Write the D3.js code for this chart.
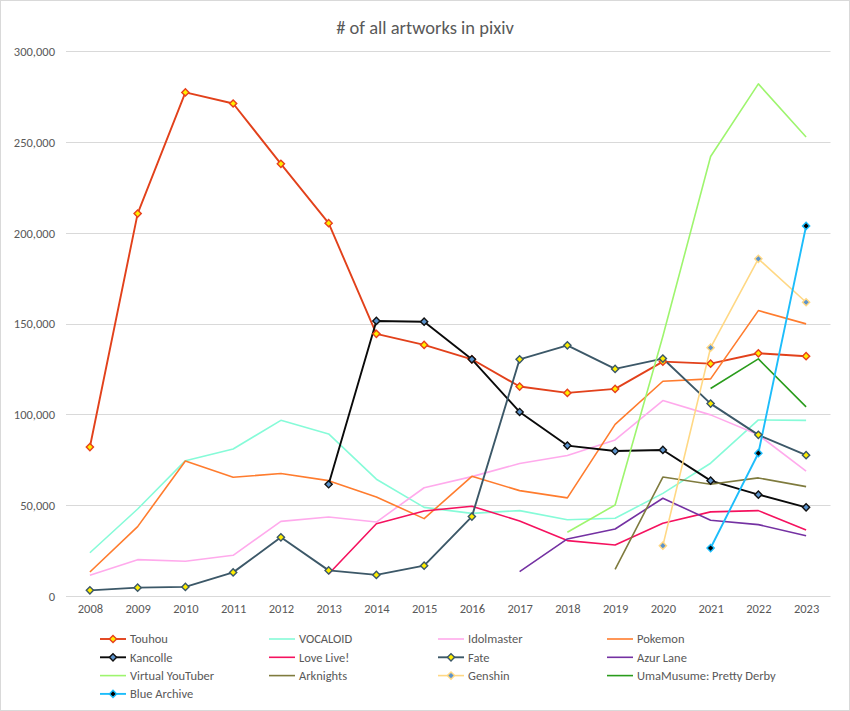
<!DOCTYPE html>
<html>
<head>
<meta charset="utf-8">
<script src="https://cdn.jsdelivr.net/npm/d3@7"></script>
<style>
  body { margin: 0; background: #fff; }
  svg { display: block; font-family: Carlito, Lato, "Open Sans", sans-serif; }
</style>
</head>
<body>
<svg id="chart" width="850" height="711"></svg>
<script>
const years = ["2008","2009","2010","2011","2012","2013","2014","2015","2016","2017","2018","2019","2020","2021","2022","2023"];
const yTicks = [0, 50000, 100000, 150000, 200000, 250000, 300000];

const touhou    = [82000, 210500, 277200, 271100, 237900, 205200, 144300, 138200, 130300, 115300, 111800, 114000, 129000, 127900, 133600, 132000];
const vocaloid  = [23800, 47900, 74500, 80900, 96700, 89200, 64300, 48800, 45500, 47000, 42000, 42800, 56500, 73100, 96900, 96700];
const idolmaster= [11400, 20000, 19100, 22400, 41100, 43500, 40700, 59600, 65700, 72900, 77300, 85900, 107600, 99700, 88700, 68800];
const pokemon   = [13200, 38200, 74300, 65400, 67400, 63500, 54500, 42600, 65900, 58000, 54000, 94500, 118200, 119500, 157100, 149800];
const kancolle  = [null, null, null, null, null, 61500, 151400, 151000, 130300, 101300, 82800, 79800, 80400, 63500, 55800, 48800];
const loveLive  = [null, null, null, null, null, 12100, 39800, 46800, 49400, 41300, 30500, 28100, 40000, 46300, 47000, 36300];
const fate      = [3100, 4600, 5000, 13000, 32300, 14100, 11600, 16700, 43700, 130300, 138000, 125000, 130700, 105900, 88700, 77500];
const azurLane  = [null, null, null, null, null, null, null, null, null, 13400, 31400, 36900, 53800, 41700, 39300, 33200];
const vtuber    = [null, null, null, null, null, null, null, null, null, null, 35100, 50100, 143000, 241900, 281900, 252700];
const arknights = [null, null, null, null, null, null, null, null, null, null, null, 14700, 65500, 61500, 65000, 60200];
const genshin   = [null, null, null, null, null, null, null, null, null, null, null, null, 27700, 136700, 185600, 161700];
const umamusume = [null, null, null, null, null, null, null, null, null, null, null, null, null, 114200, 130500, 104100];
const blueArchive=[null, null, null, null, null, null, null, null, null, null, null, null, null, 26400, 78600, 203700];

const seriesNames = ["Touhou","VOCALOID","Idolmaster","Pokemon","Kancolle","Love Live!","Fate","Azur Lane","Virtual YouTuber","Arknights","Genshin","UmaMusume: Pretty Derby","Blue Archive"];
const seriesValues = [touhou, vocaloid, idolmaster, pokemon, kancolle, loveLive, fate, azurLane, vtuber, arknights, genshin, umamusume, blueArchive];

const styles = [
  {line:"#e2411b", width:1.9, marker:{fill:"#ffee00", stroke:"#e8401c"}},
  {line:"#86fbd8", width:1.6},
  {line:"#ffaaec", width:1.6},
  {line:"#ff7c2e", width:1.6},
  {line:"#0a0a0a", width:1.9, marker:{fill:"#5b93cc", stroke:"#111"}},
  {line:"#f5125f", width:1.6},
  {line:"#3c5868", width:1.9, marker:{fill:"#ffee00", stroke:"#3c5868"}},
  {line:"#7431a2", width:1.6},
  {line:"#9ef56e", width:1.6},
  {line:"#7f7b3e", width:1.6},
  {line:"#ffd884", width:1.6, marker:{fill:"#5b93cc", stroke:"#ffd884"}},
  {line:"#2a9c1c", width:1.6},
  {line:"#1dbdfb", width:1.9, marker:{fill:"#000", stroke:"#1dbdfb"}}
];

const svg = d3.select("#chart");
const W = 850, H = 711;
const txt = "#595959", grid = "#d9d9d9";

svg.append("rect").attr("x",0.5).attr("y",0.5).attr("width",W-1).attr("height",H-1)
   .attr("fill","#fff").attr("stroke","#d9d9d9");

svg.append("text").attr("x",425).attr("y",34).attr("text-anchor","middle")
   .attr("font-size",18.5).attr("fill",txt).text("# of all artworks in pixiv");

const x = d3.scalePoint().domain(years).range([89.9, 806.1]);
const y = d3.scaleLinear().domain([0,300000]).range([596, 51]);

svg.append("g").selectAll("line").data(yTicks).join("line")
  .attr("x1",66).attr("x2",830.5)
  .attr("y1",d=>Math.round(y(d))+0.5).attr("y2",d=>Math.round(y(d))+0.5)
  .attr("stroke",grid).attr("stroke-width",1.2);

const yAxis = d3.axisLeft(y).tickValues(yTicks).tickSize(0).tickPadding(0)
  .tickFormat(d3.format(","));
const gy = svg.append("g").attr("transform","translate(55,0)").call(yAxis);
gy.select(".domain").remove();
gy.selectAll("text").attr("fill",txt).attr("font-size",12.5).attr("font-family","Carlito, Lato, sans-serif").attr("dy","0.35em");

const xAxis = d3.axisBottom(x).tickSize(0).tickPadding(0);
const gx = svg.append("g").attr("transform","translate(0,604)").call(xAxis);
gx.select(".domain").remove();
gx.selectAll("text").attr("fill",txt).attr("font-size",12.5).attr("font-family","Carlito, Lato, sans-serif");

const line = d3.line().defined(d=>d!=null).x((d,i)=>x(years[i])).y(d=>y(d));
const diamond = d3.symbol().type(d3.symbolSquare).size(26);

const plot = svg.append("g");
seriesValues.forEach((vals, si) => {
  const st = styles[si];
  plot.append("path").datum(vals).attr("d",line)
    .attr("fill","none").attr("stroke",st.line).attr("stroke-width",st.width)
    .attr("stroke-linejoin","round");
});
seriesValues.forEach((vals, si) => {
  const st = styles[si];
  if (!st.marker) return;
  plot.append("g").selectAll("path").data(vals.map((v,i)=>({v,i})).filter(d=>d.v!=null)).join("path")
    .attr("d",diamond)
    .attr("transform",d=>`translate(${x(years[d.i])},${y(d.v)}) rotate(45)`)
    .attr("fill",st.marker.fill).attr("stroke",st.marker.stroke).attr("stroke-width",1.4);
});

const leg = svg.append("g");
seriesNames.forEach((name, i) => {
  const col = i % 4, row = Math.floor(i / 4);
  const lx = 100 + col * 169, ly = 639 + row * 18.3;
  const st = styles[i];
  const g = leg.append("g").attr("transform",`translate(${lx},${ly})`);
  g.append("line").attr("x1",0).attr("x2",26).attr("y1",0).attr("y2",0)
    .attr("stroke",st.line).attr("stroke-width",st.width);
  if (st.marker) {
    g.append("path").attr("d",diamond).attr("transform","translate(13,0) rotate(45)")
      .attr("fill",st.marker.fill).attr("stroke",st.marker.stroke).attr("stroke-width",1.4);
  }
  g.append("text").attr("x",30).attr("y",0).attr("dy","0.35em")
    .attr("font-size",12.5).attr("fill",txt).text(name);
});
</script>
</body>
</html>
